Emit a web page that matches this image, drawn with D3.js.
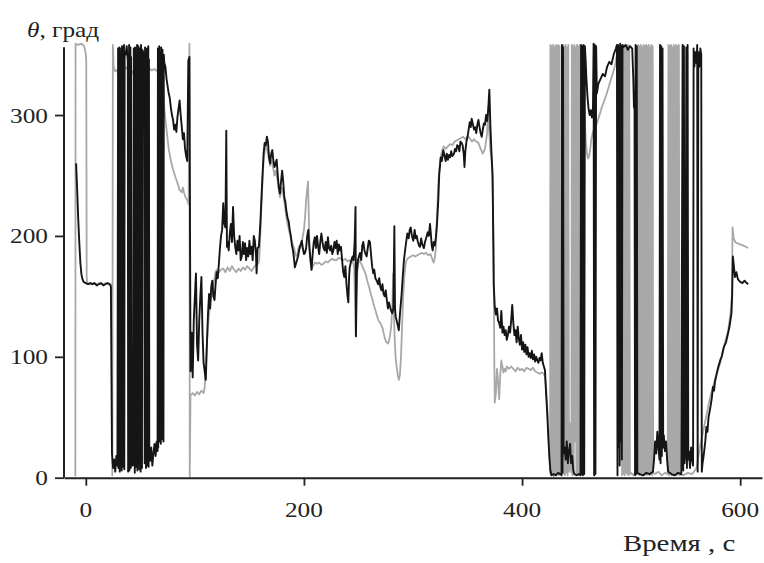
<!DOCTYPE html>
<html><head><meta charset="utf-8">
<script src="https://cdn.jsdelivr.net/npm/d3@7"></script>
<style>html,body{margin:0;padding:0;background:#fff;}svg{display:block;}</style>
</head><body>
<svg id="chart" width="764" height="563"></svg>
<script>
// ---- data ----
const xTicks = [0, 200, 400, 600];
const yTicks = [0, 100, 200, 300];
const yLabel = ["θ", ", град"];
const xLabel = "Время , с";

// black series [time s, angle deg]
const blackData = [
[-8.9,260],[-8,240],[-7,215],[-6,195],[-5,178],[-4,168],[-3,164],[-2,162],[0,161],[2,160],[4,161],[6,160],[8,161],[10,159],[12,160],[14,161],[16,159],[18,160],[20,161],[22,160],[23,158],
[24,20],[25,8],[26,15],[27,5],[28,18],[29,10],
[29.6,355],[29.9,8],[30.2,350],[30.5,15],[30.8,356],[31.1,5],[31.4,352],[31.7,20],[32,348],[32.3,10],[32.6,355],[32.9,6],[33.2,357],[33.5,18],[33.8,346],[34.1,9],[34.4,353],[34.7,14],[35,358],[35.3,7],[35.6,352],
[36.5,350],[37.5,357],[38.5,345],
[38.8,5],[39.1,352],[39.4,12],[39.7,358],[40,6],[40.3,350],[40.6,15],[40.9,356],[41.2,8],[41.5,348],[41.8,18],
[42.5,10],[43.3,20],
[44,355],[44.3,10],[44.6,350],[44.9,4],[45.2,356],[45.5,22],[45.8,345],[46.1,9],[46.4,354],[46.7,15],[47,358],[47.3,6],[47.6,350],[47.9,12],[48.2,357],[48.5,20],[48.8,347],[49.1,7],[49.4,355],[49.7,16],[50,352],[50.3,5],[50.6,358],[50.9,11],[51.2,349],[51.5,8],[51.8,354],
[52.6,352],[53.4,346],
[54,12],[54.3,356],[54.6,18],[54.9,348],[55.2,8],[55.5,352],[55.8,20],[56.1,355],[56.4,10],[56.7,350],[57,16],[57.3,357],[57.6,9],[57.9,346],[58.2,22],
[59,14],[60,25],[61,10],[62,20],[63,28],[64,18],[65,30],[65.8,22],
[66.1,355],[66.4,25],[66.7,350],[67,35],[67.3,357],[67.6,30],[67.9,352],[68.2,40],[68.5,348],[68.8,28],[69.1,356],[69.4,38],[69.7,351],[70,32],[70.3,354],[70.6,42],[70.9,349],[71.2,30],[71.5,350],
[72,343],[73,340],[74,330],[75,324],[76,318],[77,314],[78,306],[79,300],[80,296],[81,288],[82,292],[83,286],[84,298],[85,305],[86,312],[87,300],[88,290],[89,280],[90,285],[91,272],[92,266],[93,262],[94,345],[95,348],[96,88],
[97,120],[98,83],[99,130],[100,150],[101,169],[102,110],[103,97],[104,130],[105,150],[106,166],[107,120],[108,95],[109,88],[110,81],[111,110],[112,135],[113,152],[114,140],[115,158],[116,163],[117,150],[118,147],[119,160],[120,170],[121,165],[122,177],[123,190],[124,200],[125,205],[126,227],[127,210],[128,207],[128.8,287],[129.4,191],[130,195],[131,188],[132,202],[133,210],[134,195],[135,224],[136,200],[137,191],[138,185],[139,196],[140,188],[141,200],[142,180],[143,183],[144,195],[145,185],[146,194],[147,180],[148,190],[149,183],[150,196],[151,185],[152,191],[153,180],[154,200],[155,196],[156,185],[156.6,169],[157.5,190],[158.7,191],
[160,210],[161,230],[162,250],[163,268],[164,277],[165,275],[166,282],[167,278],[168,265],[169,260],[170,268],[171,271],[172,262],[173,257],[174,260],[175,263],[176,250],[177,240],[178,235],[179,245],[180,254],[181,245],[182,232],[183,228],[184,220],[185,215],[186,212],[187,205],[188,200],[189,192],[190,188],[191,180],[191.7,174],[193,178],[194.6,183],[196,190],[198,196],[199,190],[200,185],[201,186],[202,190],[203,200],[204,205],[205,190],[206,180],[207,172],[208,185],[209,195],
[210,199],[211,190],[212,200],[213,191],[214,185],[215,195],[216,202],[217,195],[218,190],[219,188],[220,195],[221,186],[222,199],[223,190],[224,188],[225,192],[226,185],[227,188],[228,195],[229,190],[230,196],[231,185],[232,193],[233,188],[234,191],[235,180],[236,170],[237,166],[238,175],[239,160],[240,150],[240.7,145],[241.5,168],[242,174],[243,178],[244.6,183],[245.5,180],[246.5,195],[247.3,224],[247.7,117],[248.5,170],[249.5,180],[251.4,186],[252.5,180],[253.5,192],[254.4,195],[255.5,188],[256.5,185],[257.5,183],[258.5,190],[259.5,196],[260.5,195],[261.5,185],[262.5,175],[263.6,169],[264.5,172],[265.5,165],[266.7,163],[268,160],[269,165],[270,158],[271,155],[272,160],[273,152],[274,150],[275,155],[276,147],[277,140],[278,145],[279,141],[280,138],[281,136],[282,140],[282.9,208],[283.5,140],[284.2,133],[285,130],[286,126],[287,122],[288,135],[289.6,152],[290.5,165],[291.7,180],[293,190],[294.8,202],[296,198],[297,205],[297.9,207],[299,200],[300.3,196],[301.5,205],[302.5,198],[303.4,200],[304.5,195],[305.5,192],[306.4,191],[307.5,198],[308.5,193],[310,190],[311,195],[312,198],[313.5,203],[314.5,200],[315.6,210],[316.5,200],[317.2,192],[318,188],[319,195],[320,192],[321,199],[322,210],[323.2,230],[324,250],[325.4,265],[326.5,262],[327.8,271],[329,266],[330,262],[331,268],[332,263],[333,267],[334,265],[335,270],[336,266],[337.6,268],[338.5,272],[339.5,270],[340.5,275],[341.6,274],[342.5,270],[343.5,278],[344.6,277],[345.5,275],[346.5,268],[347.2,257],[348,270],[349,278],[350,282],[351,288],[352,294],[353,290],[353.8,297],[355,292],[356,288],[357,290],[358,285],[359,292],[360,296],[361,290],[362,285],[363,282],[364,288],[365,293],[366,292],[367,300],[368,295],[369,305],[370,321],[371,290],[372,268],[373,250],[374,160],
[375,141],[376,135],[377,140],[378,130],[379,128],[380,124],[381,138],[382,120],[383,125],[384,118],[385,122],[386,114],[387,118],[388,125],[389,120],[390,130],[391,143],[392,128],[393,118],[394,122],[395,112],[396,125],[397,115],[398,110],[399,118],[400,106],[401,112],[402,104],[403,110],[404,102],[405,108],[406,100],[407,103],[408,99],[409,105],[410,98],[411,102],[412,96],[413,100],[414,97],[415,95],[416,99],[417,97],[418,103],[419,95],[420,92],[421,89],[422,70],[423,55],[424,35],[425,18],[426,6],[427,2],
[429,3],[431,2],[433,4],[435,3],[436.2,2],[436.6,358],[437.1,4],[437.6,356],[438.1,20],[439,25],[440,15],[441,30],[442,12],[443,22],[444,28],[445,12],[446,18],[447,6],[448,3],[450,2],[452,3],[453.6,2],[454.1,358],[454.6,3],[455.2,357],[455.8,2],[456.4,358],[457,3],[457.6,357],[458.3,345],[459,330],[460,315],[461,305],[462,300],[463,304],[464,298],[465,306],[465.6,359],[466.1,2],[466.7,358],[467.3,3],[467.9,357],[468.6,318],[470,326],[472,330],[474,334],[476,332],[478,340],[480,344],[482,342],[484,350],[486,355],[487,358],[487.5,2],[488,358],[488.5,25],[489,356],[489.5,10],[490,359],[490.5,30],[491,357],[491.5,15],[492.1,358],[492.7,356],[495,358],[497,354],[499,357],[501,355],[502,330],[502.6,306],[503.1,320],[503.6,2],[504.1,358],[504.6,3],[505.2,357],[505.7,4],[508,3],[511,2],[514,4],[517,3],[520,5],[521,15],[522,30],[523,20],[524,38],[525,25],[526,15],[526.5,358],[527,12],[527.6,357],[528.2,18],[528.8,355],[529.4,25],[530,35],[531,22],[532,30],[533,15],[534,5],[537,3],[540,2],[543,4],[546,3],[547.2,358],[547.8,6],[548.4,357],[549,12],[549.8,20],[550.6,356],[551.2,8],[551.8,358],[552.4,15],[553,22],[554,8],[555,25],[556,15],[556.8,10],[557.3,355],[558,340],[559,352],[560,343],[560.6,358],[561,5],[561.6,352],[562.5,340],[563.5,355],[564.3,350],[564.8,5],
[565.5,12],[566,15],[567,22],[568,30],[569,42],[570,38],[571,50],[572,55],[573,60],[574,66],[575,75],[576,72],[577,80],[578,84],[579,88],[580,92],[581,95],[582,98],[583,100],[584,104],[585,108],[586,110],[587,112],[588,116],[589,120],[590,124],[591,130],[592,136],[592.6,150],[593.3,183],[594.2,175],[595.2,166],[596.5,170],[598,164],[600,162],[602,161],[604,163],[606,161],[607.3,160]
];

// gray series [time s, angle deg]
const grayData = [
[-9.6,1],[-9.4,359],[-7,358],[-4,359],[-1.5,357],[-0.5,353],[0,350],[0.4,345],[0.8,165],[1.5,161],[3,160],[6,161],[9,160],[12,161],[15,160],[18,161],[21,160],[23,160],[24,158],[24.3,2],[24.8,358],[25.5,340],
[27,336],[30,338],[33,335],[36,340],[39,337],[42,334],[45,339],[48,336],[51,338],[54,335],[57,340],[60,337],[63,338],[66,336],[68,338],[70,335],
[71,320],[72,305],[74,288],[76,272],[78,262],[80,255],[82,249],[84,244],[86,238],[88,236],[89,240],[90,236],[91,233],[92,231],[93,230],[94.3,226],[95,359],[95.3,1],[96,68],
[98,70],[100,68],[102,71],[104,69],[106,72],[108,70],[109,75],[110,90],[111,110],[112,125],[113,135],[114,145],[115,149],[116,155],[117,160],[118,165],[119,170],[120,172],[122,170],[124,172],[126,173],[128,170],[130,174],[132,171],[134,175],[136,172],[138,170],[140,173],[142,171],[144,174],[146,172],[148,175],[150,173],[152,171],[154,174],[156,176],[158,177],[159,180],
[160,200],[161,225],[162,245],[163,262],[164,270],[165,275],[166,272],[167,268],[168,263],[169,258],[170,262],[171,260],[172,255],[173,250],[174,254],[175,250],[176,245],[177,238],[178,232],[179,236],[180,240],[181,235],[182,228],[183,222],[184,215],[185,210],[186,206],[187,202],[188,198],[189,195],[190,192],[191,190],[192,185],[193,183],[194,185],[195,190],[196,192],[197,190],[198,194],[199,200],[200,205],[201,215],[202,230],[203.7,245],[204.5,215],[205,195],[206,180],[207,172],[208,175],[209,176],
[210,178],[212,177],[214,178],[216,176],[218,177],[220,179],[222,178],[224,180],[226,181],[228,180],[230,180],[232,182],[234,181],[236,180],[238,181],[240,179],[242,180],[243,178],[244,182],[245,178],[246,175],[247,140],[247.5,117],[248,150],[249,172],[250,178],[251,180],[252,178],[253,176],[254,174],[255,172],[256,170],[257,167],[258,163],[259,160],[260,157],[261,153],[262,150],[263,147],[264,143],[265,140],[266,137],[267,134],[268,131],[269,129],[270,128],[271,126],[272,124],[273,120],[274,116],[275,113],[276,112],[277,111],[278,113],[279,118],[280,125],[281,140],[281.8,169],[282.5,140],[283,120],[284,100],[285,92],[286,85],[287,81],[288,85],[289,100],[290,125],[291,150],[292,166],[293,175],[294,180],[296,182],[298,183],[300,184],[302,183],[304,184],[306,185],[308,186],[310,185],[312,186],[314,184],[316,185],[318,180],[319,178],[320,182],[321,190],[322,215],[323,240],[324,254],[325,262],[326,268],[328,274],[330,272],[332,274],[334,276],[336,275],[338,278],[340,279],[342,280],[344,281],[346,282],[348,280],[350,282],[352,281],[354,278],[356,280],[358,278],[360,277],[362,272],[364,268],[366,272],[368,285],[369,307],[370,285],[371,270],[372,263],[373,240],[374,190],[374.5,100],
[375,62],[376,70],[377,90],[378,80],[379,65],[380,85],[381,97],[382,92],[383,87],[384,90],[385,88],[386,92],[388,90],[390,92],[392,90],[394,88],[396,91],[398,89],[400,90],[402,88],[404,91],[406,90],[408,89],[410,91],[412,88],[414,87],[416,86],[418,87],[420,86],[421,83],[422,75],[423,60],[424,40],[425,20],[425.7,4],
[426,358],[426.6,2],[427.2,357],[427.8,3],[428.4,358],[429,1],[429.6,356],[430.2,3],[430.8,358],[431.4,2],[432,357],[432.6,4],[433.2,358],[433.8,2],[434.4,357],[435,3],
[436,5],[437,8],
[437.6,358],[438.2,3],[438.8,357],[439.4,2],[440,358],[440.6,4],[441.2,356],[441.8,2],[442.4,358],[443,5],
[443.8,45],[444.5,10],[445.2,4],
[445.6,358],[446.2,2],[446.8,357],[447.4,3],[448,358],[448.6,30],[449.2,356],[449.8,2],[450.4,358],[451,3],[451.6,357],[452.2,2],[452.8,358],
[453.5,355],[454.5,348],[455.5,335],[456.5,315],[457.5,295],[458.5,278],[459.5,268],[460.5,264],[461.5,266],[462.5,272],[463.5,280],[465,286],[467,290],[469,294],[471,300],[473,306],[475,311],[477,316],[479,322],[481,328],[483,334],[485,340],[487,350],[488.5,357],[490,358],[491,356],
[491.7,2],[492.3,358],[492.9,3],[493.5,357],[494.1,2],[494.7,358],[495.3,4],[495.9,356],[496.5,3],[497.1,358],[497.7,2],[498.3,357],[498.9,3],
[500,4],[502,2],[504,5],[506,3],
[506.6,358],[507.2,2],[507.8,357],[508.4,3],[509,358],[509.6,2],[510.2,356],[510.8,4],[511.4,358],[512,2],[512.6,357],[513.2,3],[513.8,358],[514.4,2],[515,357],[515.6,3],[516.2,358],[516.8,2],[517.4,356],[518,3],[518.6,358],[519.2,2],[519.8,357],[520.2,4],
[522,3],[525,5],[528,2],[531,4],[533.5,3],
[534.2,358],[534.8,2],[535.4,357],[536,3],[536.6,358],[537.2,2],[537.8,356],[538.4,3],[539,358],[539.6,2],[540.2,357],[540.8,4],[541.4,358],[542,2],[542.6,357],[543.2,3],[543.8,358],[544.4,2],[545,3],
[548,2],[552,4],[556,3],[560,8],[563,25],[566,38],[569.4,53],[572,65],[575,75],[578,85],[581.7,95],[585,108],[589,122],[591,135],[592.4,150],[593,207],[594,198],[595.5,195],[597,194],[600,193],[603,192],[605,191],[607.3,190]
];

// ---- drawing ----
const svg = d3.select("#chart");
const x = d3.scaleLinear().domain([-20, 620]).range([64, 762]);
const y = d3.scaleLinear().domain([0, 360]).range([477.7, 42.5]);
const line = d3.line().x(d => x(d[0])).y(d => y(d[1]));

svg.append("rect").attr("width", 764).attr("height", 563).attr("fill", "#fff");

svg.append("path").datum(grayData).attr("d", line)
  .attr("fill", "none").attr("stroke", "#a8a8a8").attr("stroke-width", 1.8)
  .attr("stroke-linejoin", "round");
svg.append("path").datum(blackData).attr("d", line)
  .attr("fill", "none").attr("stroke", "#151515").attr("stroke-width", 1.9)
  .attr("stroke-linejoin", "round");

const axisColor = "#222";
const font = "'Liberation Serif', 'Times New Roman', serif";
const stretch = 1.15;

const gx = svg.append("g").attr("transform", `translate(0,${y(0)})`)
  .call(d3.axisBottom(x).tickValues(xTicks).tickSize(8).tickSizeOuter(0).tickFormat(() => ""));
gx.select(".domain").attr("stroke", axisColor).attr("stroke-width", 2);
gx.selectAll(".tick line").attr("stroke", axisColor).attr("stroke-width", 1.8);

const gy = svg.append("g").attr("transform", `translate(${x(-20)},0)`)
  .call(d3.axisLeft(y).tickValues(yTicks).tickSize(9).tickSizeOuter(0).tickFormat(() => ""));
gy.select(".domain").attr("d", `M0,${y(0)}V${y(356)}`).attr("stroke", axisColor).attr("stroke-width", 2);
gy.selectAll(".tick line").attr("stroke", axisColor).attr("stroke-width", 1.8);

svg.selectAll("text.xt").data(xTicks).enter().append("text").attr("class", "xt")
  .attr("transform", d => `translate(${x(d)},517) scale(${stretch},1)`)
  .attr("text-anchor", "middle").attr("font-family", font).attr("font-size", 22)
  .attr("fill", axisColor).text(d => d);

svg.selectAll("text.yt").data(yTicks).enter().append("text").attr("class", "yt")
  .attr("transform", d => `translate(48,${y(d) + 7.5}) scale(${stretch},1)`)
  .attr("text-anchor", "end").attr("font-family", font).attr("font-size", 22)
  .attr("fill", axisColor).text(d => d);

const yl = svg.append("text")
  .attr("transform", `translate(27,36.5) scale(${stretch},1)`)
  .attr("font-family", font).attr("font-size", 22).attr("fill", axisColor);
yl.append("tspan").attr("font-style", "italic").text(yLabel[0]);
yl.append("tspan").text(yLabel[1]);

svg.append("text")
  .attr("transform", `translate(623,551) scale(1.2,1)`)
  .attr("font-family", font).attr("font-size", 24).attr("fill", axisColor)
  .text(xLabel);
</script>
</body></html>
